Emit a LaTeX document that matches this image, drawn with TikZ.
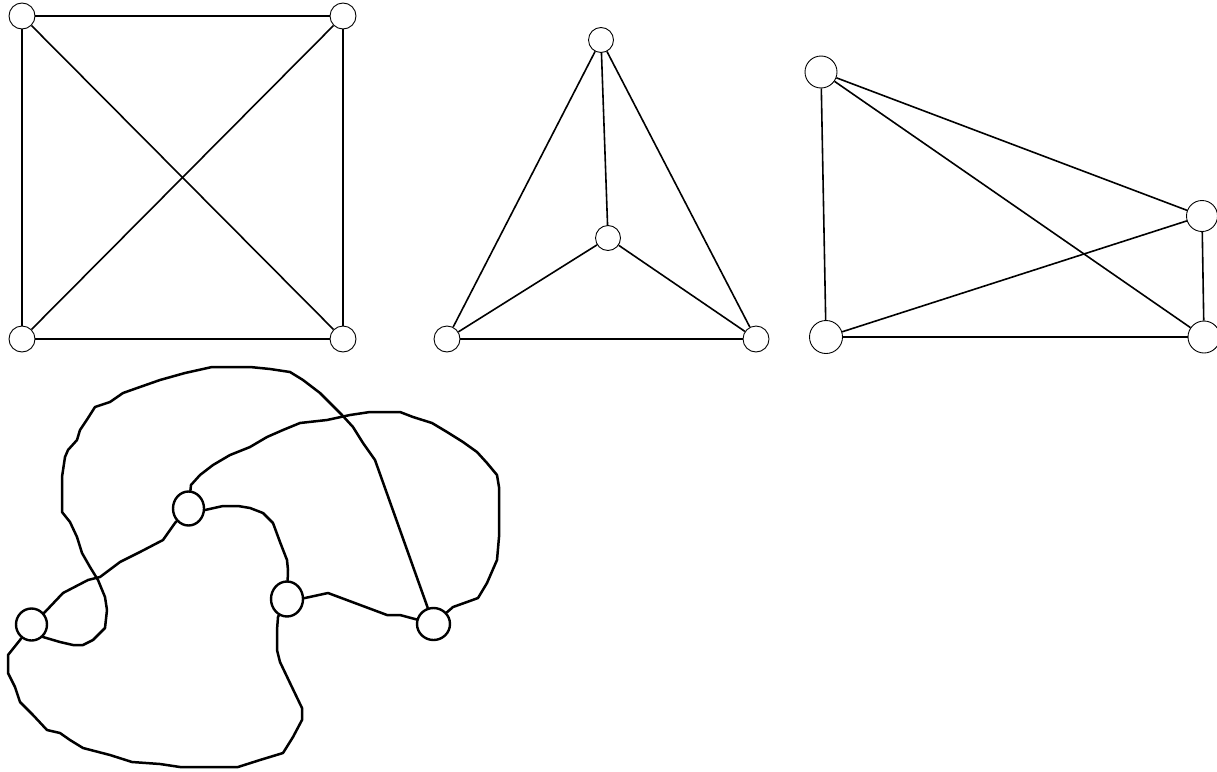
\documentclass[tikz,border=0pt]{standalone}
\usetikzlibrary{shapes.geometric}
\begin{document}
\begin{tikzpicture}[x=1pt,y=-1pt,
  vtx/.style={circle,draw,line width=0.9pt,inner sep=0pt,minimum size=#1},
  vtx/.default=26pt,
  edge/.style={line width=1.6pt},
  bvtx/.style={ellipse,draw,line width=2.4pt,inner sep=0pt,minimum width=31pt,minimum height=#1},
  bvtx/.default=31pt,
  wob/.style={line width=2.5pt,line join=round,line cap=round}]
\useasboundingbox (0,0) rectangle (1217,771);
% square K4
\node[vtx] (s1) at (22,16) {};
\node[vtx] (s2) at (343,16) {};
\node[vtx] (s3) at (22,339) {};
\node[vtx] (s4) at (343,339) {};
\draw[edge] (s1) -- (s2);
\draw[edge] (s3) -- (s4);
\draw[edge] (s1) -- (s3);
\draw[edge] (s2) -- (s4);
\draw[edge] (s1) -- (s4);
\draw[edge] (s2) -- (s3);
% triangle K4
\node[vtx=25pt] (t1) at (601,40) {};
\node[vtx=25pt] (t2) at (608,238) {};
\node[vtx] (t3) at (447,339) {};
\node[vtx] (t4) at (756,339) {};
\draw[edge] (t1) -- (t3);
\draw[edge] (t1) -- (t4);
\draw[edge] (t1) -- (t2);
\draw[edge] (t2) -- (t3);
\draw[edge] (t2) -- (t4);
\draw[edge] (t3) -- (t4);
% right K4
\node[vtx=32pt] (r1) at (821,72) {};
\node[vtx=31pt] (r2) at (1202,216) {};
\node[vtx=33pt] (r3) at (826,337) {};
\node[vtx=32pt] (r4) at (1204,337) {};
\draw[edge] (r1) -- (r3);
\draw[edge] (r1) -- (r2);
\draw[edge] (r1) -- (r4);
\draw[edge] (r2) -- (r3);
\draw[edge] (r2) -- (r4);
\draw[edge] (r3) -- (r4);
% bottom wobbly drawing
\node[bvtx=32pt] (A) at (31.5,624.5) {};
\node[bvtx=34pt] (B) at (188.5,508.5) {};
\node[bvtx=35pt,minimum width=32pt] (C) at (287,599) {};
\node[bvtx=32pt,minimum width=33pt] (D) at (433.5,624) {};
\draw[wob] (A) -- (43,637) -- (60,642) -- (73,645) -- (83,645) -- (93,640) -- (105,628) -- (107,610) -- (105,597) -- (98,580) -- (90,567) -- (82,553) -- (77,537) -- (70,522) -- (62,512) -- (62,477) -- (65,457) -- (68,450) -- (77,440) -- (80,430) -- (88,418) -- (95,407) -- (110,402) -- (123,393) -- (140,387) -- (160,380) -- (185,373) -- (212,367) -- (250,367) -- (270,369) -- (290,372) -- (303,380) -- (320,393) -- (330,403) -- (342,415) -- (353,427) -- (363,443) -- (375,460) -- (D);
\draw[wob] (B) -- (191,485) -- (200,475) -- (213,465) -- (230,455) -- (250,447) -- (267,437) -- (283,430) -- (300,423) -- (327,420) -- (350,415) -- (370,412) -- (400,412) -- (413,417) -- (432,423) -- (447,432) -- (463,442) -- (477,452) -- (487,463) -- (497,475) -- (499,487) -- (499,537) -- (497,560) -- (487,583) -- (478,598) -- (467,602) -- (453,607) -- (D);
\draw[wob] (B) -- (205,510) -- (223,506) -- (238,506) -- (250,508) -- (263,513) -- (273,523) -- (280,542) -- (287,560) -- (288,570) -- (C);
\draw[wob] (C) -- (305,598) -- (328,593) -- (387,615) -- (400,615) -- (D);
\draw[wob] (C) -- (278,617) -- (277,630) -- (277,650) -- (280,662) -- (290,683) -- (302,708) -- (302,720) -- (293,737) -- (283,753) -- (260,760) -- (238,767) -- (180,767) -- (160,764) -- (132,762) -- (110,755) -- (83,748) -- (70,740) -- (60,733) -- (47,730) -- (33,715) -- (20,702) -- (15,687) -- (8,673) -- (8,655) -- (20,640) -- (A);
\draw[wob] (A) -- (45,612) -- (63,593) -- (88,580) -- (100,577) -- (120,562) -- (140,552) -- (163,540) -- (175,523) -- (B);
\end{tikzpicture}
\end{document}
